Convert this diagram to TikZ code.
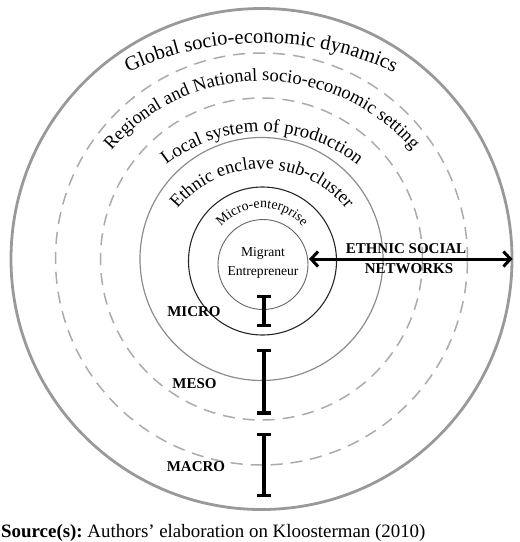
\documentclass[tikz,border=0pt]{standalone}
\usepackage{fontspec}
\setmainfont{Liberation Serif}
\usetikzlibrary{decorations.text,arrows.meta}
\frenchspacing
\begin{document}
\begin{tikzpicture}[x=1pt,y=1pt,
  ring/.style={circle, inner sep=0pt, outer sep=0pt, fill=none},
  outerring/.style={ring, draw=black!40, line width=2.8pt},
  dashring/.style={ring, draw=black!33, line width=1.5pt, dash pattern=on 12pt off 8pt},
  grayring/.style={ring, draw=black!45, line width=1.2pt},
  blackring/.style={ring, draw=black!85, line width=1.1pt},
  innerring/.style={ring, draw=black!60, line width=0.9pt},
  arctext/.style={decorate, decoration={text along path, text align=center, text={#1}}},
  levellabel/.style={anchor=base, font=\fontsize{15}{18}\selectfont\bfseries},
  ibar/.style={line width=3.3pt, {Bar[width=14pt]}-{Bar[width=14pt]}},
  netarrow/.style={line width=3pt, {Straight Barb[length=7pt,width=15pt]}-{Straight Barb[length=7pt,width=15pt]}}
]
\useasboundingbox (0,0) rectangle (520,-542);

% rings
\node[outerring, minimum size=501pt] (outer) at (261.5,-259) {};
\node[dashring, minimum size=412pt] (regional) at (261.5,-259) {};
\node[dashring, minimum size=322pt] (local) at (261.5,-259) {};
\node[grayring, minimum size=243pt] (enclave) at (261.5,-259) {};
\node[blackring, minimum size=148pt] (micro) at (262.5,-261) {};
\node[innerring, minimum size=90pt] (migrant) at (263,-264.5) {};

% curved labels
\path[arctext={|\fontsize{20.5}{24}\selectfont|Global socio-economic dynamics}]
  (261,-359) ++(125:316) arc[start angle=125, end angle=55, radius=316];
\path[arctext={|\fontsize{18.5}{22}\selectfont|Regional and National socio-economic setting}]
  (262,-279) ++(150:198) arc[start angle=150, end angle=30, radius=198];
\path[arctext={|\fontsize{18.8}{22}\selectfont|Local system of production}]
  (262,-288) ++(140:156) arc[start angle=140, end angle=40, radius=156];
\path[arctext={|\fontsize{18.3}{22}\selectfont|Ethnic enclave sub-cluster}]
  (262,-278) ++(150:109) arc[start angle=150, end angle=30, radius=109];
\path[arctext={|\fontsize{13.8}{16}\selectfont|Micro-enterprise}]
  (262,-262.5) ++(160:54.5) arc[start angle=160, end angle=20, radius=54.5];

% centre text
\node[anchor=base, font=\fontsize{13.6}{16}\selectfont] (mig1) at (263,-256) {Migrant};
\node[anchor=base, font=\fontsize{13.6}{16}\selectfont] (mig2) at (263,-275) {Entrepreneur};

% ethnic social networks
\node[anchor=base, font=\fontsize{15}{18}\selectfont\bfseries] (esn1) at (406,-253.5) {ETHNIC SOCIAL};
\node[anchor=base, font=\fontsize{15}{18}\selectfont\bfseries] (esn2) at (409,-273.5) {NETWORKS};
\coordinate (arrL) at (309,-259);
\coordinate (arrR) at (512.5,-259);
\draw[netarrow] (arrL) -- (arrR);

% levels
\node[levellabel] (microlbl) at (194,-316.5) {MICRO};
\node[levellabel] (mesolbl) at (194.5,-388) {MESO};
\node[levellabel] (macrolbl) at (196,-471.5) {MACRO};
\coordinate (mi1) at (264,-295);
\coordinate (mi2) at (264,-327);
\coordinate (me1) at (264,-349);
\coordinate (me2) at (264,-414.5);
\coordinate (ma1) at (264,-432.5);
\coordinate (ma2) at (264,-497);
\draw[ibar] (mi1) -- (mi2);
\draw[ibar] (me1) -- (me2);
\draw[ibar] (ma1) -- (ma2);

% source
\node[anchor=base west, inner sep=0pt, font=\fontsize{18.9}{22}\selectfont] (src) at (1,-537.5)
  {\textbf{Source(s):} Authors’ elaboration on Kloosterman (2010)};
\end{tikzpicture}
\end{document}
